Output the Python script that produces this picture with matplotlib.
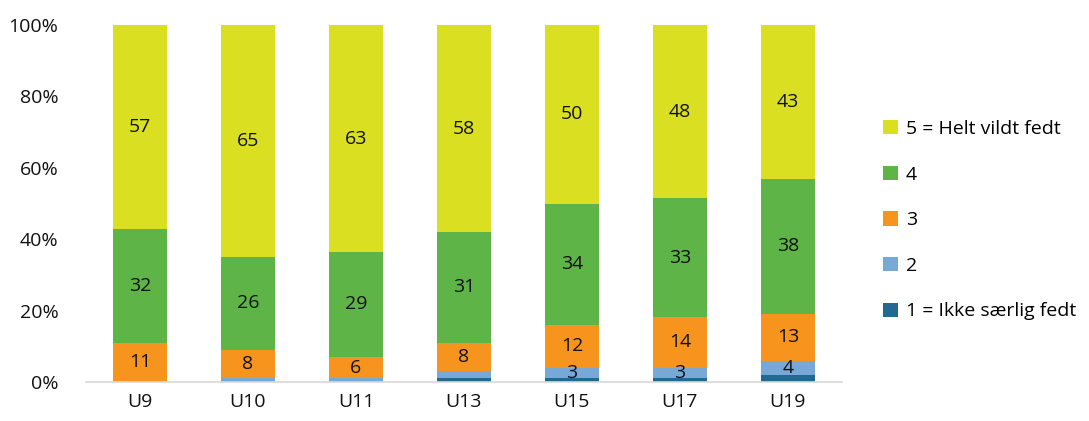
import numpy as np
import matplotlib.pyplot as plt
from matplotlib.ticker import PercentFormatter

plt.rcParams['font.family'] = ['Open Sans', 'DejaVu Sans']

groups = ["U9", "U10", "U11", "U13", "U15", "U17", "U19"]
labels = ["1 = Ikke særlig fedt", "2", "3", "4", "5 = Helt vildt fedt"]
s1 = [0, 0, 0, 1, 1, 1, 2]
s2 = [0, 1, 1, 2, 3, 3, 4]
s3 = [11, 8, 6, 8, 12, 14, 13]
s4 = [32, 26, 29, 31, 34, 33, 38]
s5 = [57, 65, 63, 58, 50, 48, 43]
colors = ["#236891", "#78A9D6", "#F7941D", "#5EB446", "#DAE021"]

data = np.array([s1, s2, s3, s4, s5], dtype=float)
share = data / data.sum(axis=0) * 100

fig = plt.figure(figsize=(10.89, 4.21), dpi=100)
ax = fig.add_axes([0.079, 0.0926, 0.694, 0.848])

x = np.arange(len(groups))
bottom = np.zeros(len(groups))
handles = []
for i in range(5):
    b = ax.bar(x, share[i], 0.5, bottom=bottom, color=colors[i], label=labels[i])
    handles.append(b)
    for j in range(len(groups)):
        if data[i, j] >= 3:
            ax.text(x[j], bottom[j] + share[i, j] / 2, f"{int(data[i, j])}",
                    ha='center', va='center', fontsize=14, color='#111111')
    bottom += share[i]

ax.set_xlim(-0.5, len(groups) - 0.5)
ax.set_ylim(0, 100)
ax.set_yticks(np.arange(0, 101, 20))
ax.yaxis.set_major_formatter(PercentFormatter(decimals=0))
ax.set_xticks(x)
ax.set_xticklabels(groups)
ax.tick_params(axis='both', length=0, labelsize=14, colors='#111111')
ax.tick_params(axis='x', pad=8)
ax.tick_params(axis='y', pad=20)
for side in ['top', 'right', 'left']:
    ax.spines[side].set_visible(False)
ax.spines['bottom'].set_color('#d9d9d9')
ax.spines['bottom'].set_linewidth(1.2)

leg = fig.legend(handles[::-1], labels[::-1], loc='center left',
                 bbox_to_anchor=(0.795, 0.477), frameon=False, fontsize=14,
                 handlelength=0.75, handleheight=0.75, labelspacing=1.42,
                 handletextpad=0.4)

fig.savefig("out.png", dpi=100)
